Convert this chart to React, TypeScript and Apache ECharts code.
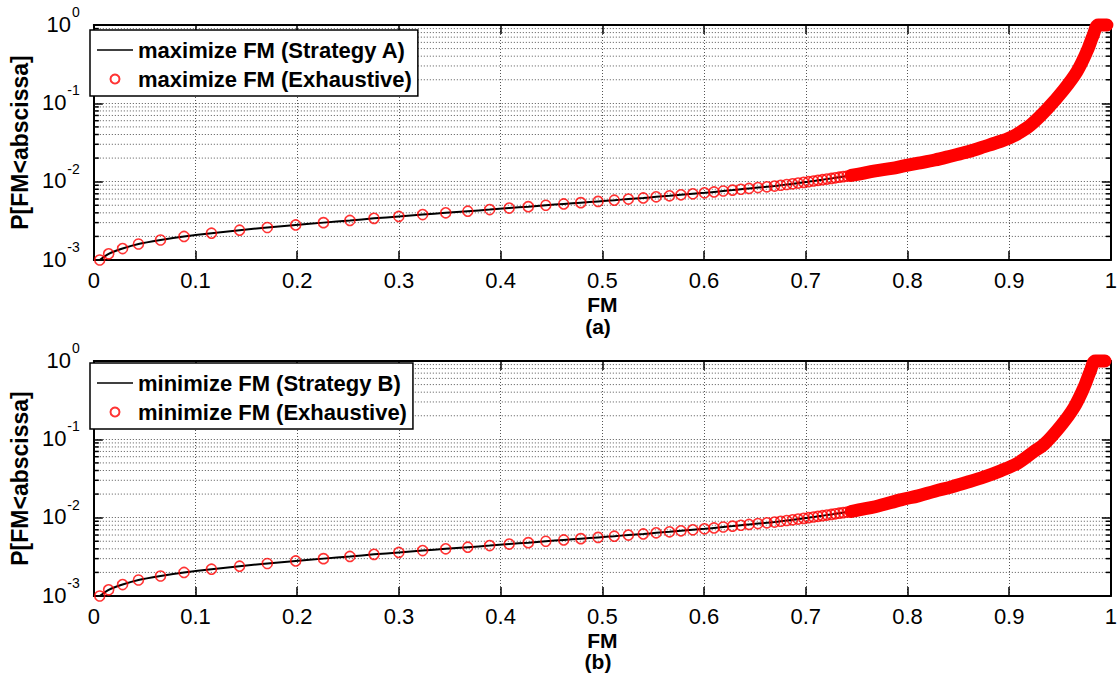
import React, { useEffect, useRef } from 'react';
import * as echarts from 'echarts';

const FONT = '"Liberation Sans", Arial, Helvetica, sans-serif';

// Minor log ticks (2..9 x 10^k)
const minorTicksY = [
  0.002, 0.003, 0.004, 0.005, 0.006, 0.007, 0.008, 0.009,
  0.02, 0.03, 0.04, 0.05, 0.06, 0.07, 0.08, 0.09,
  0.2, 0.3, 0.4, 0.5, 0.6, 0.7, 0.8, 0.9,
];

// ---- Panel (a): individual circles ----
const fmA = [
  0.0058, 0.0146, 0.0283, 0.0439, 0.0656, 0.0887, 0.1157, 0.1433, 0.1706, 0.1985,
  0.2258, 0.2518, 0.2755, 0.2999, 0.3233, 0.3460, 0.3677, 0.3892, 0.4084, 0.4272,
  0.4444, 0.4620, 0.4788, 0.4958, 0.5117, 0.5256, 0.5402, 0.5529, 0.5660, 0.5773,
  0.5890, 0.6004, 0.6098, 0.6189, 0.6280, 0.6362, 0.6442, 0.6530, 0.6618, 0.6693,
  0.6754, 0.6813, 0.6871, 0.6925, 0.6979, 0.7027, 0.7076, 0.7120, 0.7164, 0.7208,
  0.7251, 0.7290, 0.7329, 0.7368, 0.7407, 0.7446,
];
const pA = [
  0.0010, 0.0012, 0.0014, 0.0016, 0.0018, 0.0020, 0.0022, 0.0024, 0.0026, 0.0028,
  0.0030, 0.0032, 0.0034, 0.0036, 0.0038, 0.0040, 0.0042, 0.0044, 0.0046, 0.0048,
  0.0050, 0.0052, 0.0054, 0.0056, 0.0058, 0.0060, 0.0062, 0.0064, 0.0066, 0.0068,
  0.0070, 0.0072, 0.0074, 0.0076, 0.0078, 0.0080, 0.0082, 0.0084, 0.0086, 0.0088,
  0.0090, 0.0092, 0.0094, 0.0096, 0.0098, 0.0100, 0.0102, 0.0104, 0.0106, 0.0108,
  0.0110, 0.0112, 0.0114, 0.0116, 0.0118, 0.0120,
];
// dense part (circles overlap into a solid band) read along the band centre
const fmA_band = [
  0.7446, 0.7521, 0.7683, 0.7846, 0.7976, 0.8106, 0.8268, 0.8431, 0.8594, 0.8755,
  0.8918, 0.9016, 0.9081, 0.9211, 0.9373, 0.9535, 0.9666, 0.9763, 0.9827, 0.9876, 0.9961,
];
const pA_band = [
  0.0120, 0.0125, 0.0137, 0.0148, 0.0160, 0.0172, 0.0189, 0.0213, 0.0241, 0.0280,
  0.0328, 0.0368, 0.0407, 0.0529, 0.0847, 0.148, 0.254, 0.456, 0.746, 1.0, 1.0,
];

// ---- Panel (b) ----
const fmB = [
  0.0058, 0.0146, 0.0283, 0.0439, 0.0656, 0.0887, 0.1157, 0.1433, 0.1706, 0.1985,
  0.2258, 0.2518, 0.2755, 0.2999, 0.3233, 0.3460, 0.3677, 0.3892, 0.4084, 0.4272,
  0.4444, 0.4620, 0.4788, 0.4958, 0.5117, 0.5256, 0.5402, 0.5529, 0.5660, 0.5773,
  0.5890, 0.6004, 0.6098, 0.6189, 0.6280, 0.6362, 0.6442, 0.6530, 0.6618, 0.6693,
  0.6754, 0.6813, 0.6871, 0.6925, 0.6979, 0.7027, 0.7076, 0.7120, 0.7164, 0.7208,
  0.7251, 0.7290, 0.7329, 0.7368, 0.7407, 0.7446,
];
const pB = [
  0.0010, 0.0012, 0.0014, 0.0016, 0.0018, 0.0020, 0.0022, 0.0024, 0.0026, 0.0028,
  0.0030, 0.0032, 0.0034, 0.0036, 0.0038, 0.0040, 0.0042, 0.0044, 0.0046, 0.0048,
  0.0050, 0.0052, 0.0054, 0.0056, 0.0058, 0.0060, 0.0062, 0.0064, 0.0066, 0.0068,
  0.0070, 0.0072, 0.0074, 0.0076, 0.0078, 0.0080, 0.0082, 0.0084, 0.0086, 0.0088,
  0.0090, 0.0092, 0.0094, 0.0096, 0.0098, 0.0100, 0.0102, 0.0104, 0.0106, 0.0108,
  0.0110, 0.0112, 0.0114, 0.0116, 0.0118, 0.0120,
];
const fmB_band = [
  0.7446, 0.7521, 0.7683, 0.7943, 0.8106, 0.8268, 0.8431, 0.8594, 0.8755, 0.8918,
  0.9081, 0.9243, 0.9344, 0.9506, 0.9636, 0.9734, 0.9798, 0.9847, 0.9942,
];
const pB_band = [
  0.0120, 0.0126, 0.0138, 0.0170, 0.0190, 0.0218, 0.0247, 0.0285, 0.0332, 0.0398,
  0.0495, 0.0700, 0.0864, 0.148, 0.253, 0.456, 0.745, 1.0, 1.0,
];

const panels = [
  {
    key: 'a',
    lineName: 'maximize FM (Strategy A)',
    dotName: 'maximize FM (Exhaustive)',
    fm: fmA, p: pA, fmBand: fmA_band, pBand: pA_band,
  },
  {
    key: 'b',
    lineName: 'minimize FM (Strategy B)',
    dotName: 'minimize FM (Exhaustive)',
    fm: fmB, p: pB, fmBand: fmB_band, pBand: pB_band,
  },
];

// layout (pixels)
const GRID_LEFT = 85;
const GRID_W = 1026;
const GRID_H = 235;
const GRID_TOPS = [25, 361];
const LEGEND_TOPS = [30, 363];
const CAPTION_Y = [326, 661];
const GRID_COLOR = '#555';
const LINE_ICON = 'path://M0,0L36,0L36,1.6L0,1.6Z';

const zip = (xs: number[], ys: number[]) => xs.map((x, i) => [x, ys[i]]);

function buildOption() {
  const grid: any[] = [];
  const xAxis: any[] = [];
  const yAxis: any[] = [];
  const series: any[] = [];
  const legend: any[] = [];
  const graphic: any[] = [];

  panels.forEach((pn, i) => {
    grid.push({ left: GRID_LEFT, top: GRID_TOPS[i], width: GRID_W, height: GRID_H, containLabel: false });
    const axisLine = { show: true, onZero: false, lineStyle: { color: '#000', width: 2 } };
    xAxis.push({
      type: 'value', gridIndex: i, min: 0, max: 1, interval: 0.1, position: 'bottom',
      axisLine,
      axisTick: { show: true, inside: true, length: 9, lineStyle: { color: '#000', width: 1.5 } },
      axisLabel: { show: true, color: '#000', fontSize: 22, fontFamily: FONT, margin: 9 },
      splitLine: { show: true, lineStyle: { color: GRID_COLOR, width: 1, type: [1, 2] } },
      name: 'FM', nameLocation: 'middle', nameGap: 34,
      nameTextStyle: { color: '#000', fontSize: 21, fontWeight: 'bold', fontFamily: FONT },
    });
    xAxis.push({
      type: 'value', gridIndex: i, min: 0, max: 1, interval: 0.1, position: 'top',
      axisLine,
      axisTick: { show: true, inside: true, length: 9, lineStyle: { color: '#000', width: 1.5 } },
      axisLabel: { show: false },
      splitLine: { show: false },
    });
    yAxis.push({
      type: 'log', logBase: 10, gridIndex: i, min: 0.001, max: 1, position: 'left',
      axisLine,
      axisTick: { show: true, inside: true, length: 9, lineStyle: { color: '#000', width: 1.5 } },
      axisLabel: {
        show: true, margin: 14, padding: [0, 0, 10, 0],
        formatter: (v: number) => `{b|10}{s|${Math.round(Math.log10(v))}}`,
        rich: {
          b: { fontSize: 22, color: '#000', fontFamily: FONT, verticalAlign: 'bottom' },
          s: { fontSize: 14, color: '#000', fontFamily: FONT, verticalAlign: 'bottom', padding: [0, 0, 16, 1] },
        },
      },
      splitLine: { show: true, lineStyle: { color: GRID_COLOR, width: 1, type: [1, 2] } },
      name: 'P[FM<abscissa]', nameLocation: 'middle', nameGap: 55, nameRotate: 90,
      nameTextStyle: { color: '#000', fontSize: 23, fontWeight: 'bold', fontFamily: FONT },
    });
    yAxis.push({
      type: 'log', logBase: 10, gridIndex: i, min: 0.001, max: 1, position: 'right',
      axisLine,
      axisTick: { show: true, inside: true, length: 9, lineStyle: { color: '#000', width: 1.5 } },
      axisLabel: { show: false },
      splitLine: { show: false },
    });

    const xi = 2 * i;
    const yi = 2 * i;

    // minor log grid lines + minor ticks on both sides
    series.push({
      type: 'custom', name: `minor-${pn.key}`, xAxisIndex: xi, yAxisIndex: yi, silent: true, z: 1,
      clip: false,
      data: minorTicksY.map((v) => [0, v]),
      encode: { x: 0, y: 1 },
      renderItem: (_params: any, api: any) => {
        const v = api.value(1);
        const a = api.coord([0, v]);
        const b = api.coord([1, v]);
        return {
          type: 'group',
          children: [
            { type: 'line', shape: { x1: a[0], y1: a[1], x2: b[0], y2: b[1] }, style: { stroke: GRID_COLOR, lineWidth: 1, lineDash: [1, 2] } },
            { type: 'line', shape: { x1: a[0], y1: a[1], x2: a[0] + 5, y2: a[1] }, style: { stroke: '#000', lineWidth: 1.5 } },
            { type: 'line', shape: { x1: b[0] - 5, y1: b[1], x2: b[0], y2: b[1] }, style: { stroke: '#000', lineWidth: 1.5 } },
          ],
        };
      },
    });

    const allX = pn.fm.concat(pn.fmBand.slice(1));
    const allP = pn.p.concat(pn.pBand.slice(1));

    series.push({
      type: 'line', name: pn.lineName, xAxisIndex: xi, yAxisIndex: yi, z: 3,
      data: zip(allX, allP), symbol: 'none', showSymbol: false, smooth: 0.2,
      lineStyle: { color: '#000', width: 2 }, itemStyle: { color: '#000' },
      silent: true, emphasis: { disabled: true },
    });
    // dense, fully overlapping circles -> solid red band
    series.push({
      type: 'line', name: `band-${pn.key}`, xAxisIndex: xi, yAxisIndex: yi, z: 4,
      data: zip(pn.fmBand, pn.pBand), symbol: 'none', showSymbol: false, smooth: 0.35, clip: false,
      lineStyle: { color: '#ff0000', width: 13, cap: 'round', join: 'round' },
      silent: true, emphasis: { disabled: true },
    });
    series.push({
      type: 'scatter', name: pn.dotName, xAxisIndex: xi, yAxisIndex: yi, z: 5,
      data: zip(pn.fm, pn.p), symbol: 'circle', symbolSize: 10, clip: false,
      itemStyle: { color: 'rgba(0,0,0,0)', borderColor: '#ff0000', borderWidth: 1.6 },
      silent: true, emphasis: { disabled: true },
    });

    legend.push({
      data: [
        { name: pn.lineName, icon: LINE_ICON, itemStyle: { color: '#000' } },
        { name: pn.dotName, icon: 'circle' },
      ],
      orient: 'vertical', left: 90, top: LEGEND_TOPS[i],
      padding: [9, 6, 6, 7], itemGap: 7, itemWidth: 36, itemHeight: 9,
      backgroundColor: '#fff', borderColor: '#000', borderWidth: 1.5, borderRadius: 0,
      textStyle: { color: '#000', fontSize: 22, fontWeight: 'bold', fontFamily: FONT },
      selectedMode: false, z: 10,
    });

    graphic.push({
      type: 'text', x: GRID_LEFT + GRID_W / 2, y: CAPTION_Y[i],
      style: {
        text: `(${pn.key})`, font: `bold 21px ${FONT}`, fill: '#000',
        textAlign: 'center', textVerticalAlign: 'middle', align: 'center', verticalAlign: 'middle',
      },
    });
  });

  return {
    animation: false,
    backgroundColor: '#fff',
    grid, xAxis, yAxis, series, legend, graphic,
  };
}

export default function App() {
  const ref = useRef<HTMLDivElement>(null);
  useEffect(() => {
    if (!ref.current) return;
    const chart = echarts.init(ref.current, undefined, { renderer: 'svg' });
    chart.setOption(buildOption() as any);
    return () => chart.dispose();
  }, []);
  return (
    <div
      ref={ref}
      style={{ position: 'absolute', left: 0, top: 0, width: 1120, height: 688, background: '#fff' }}
    />
  );
}
